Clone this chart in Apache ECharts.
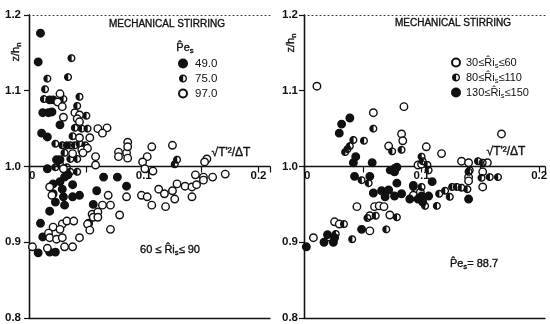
<!DOCTYPE html>
<html>
<head>
<meta charset="utf-8">
<script src="https://cdn.jsdelivr.net/npm/echarts@6/dist/echarts.min.js"></script>
<style>
html, body { margin: 0; padding: 0; background: #fff; }
#main { width: 550px; height: 324px; }
</style>
</head>
<body>
<div id="main"></div>
<script>
// tick values
var yTicks = [0.8, 0.9, 1.0, 1.1, 1.2];
var xTickLabels = ['0', '0.1', '0.2'];

// left panel: 60 <= Ri_s <= 90, three Pe_s values  [sqrt(T'^2)/dT, z/h_n]
var pe49 = [[0.010,1.176],[0.008,1.138],[0.018,1.088],[0.021,1.088],[0.012,1.071],[0.017,1.071],[0.020,1.072],
  [0.027,1.055],[0.011,1.044],[0.016,1.039],[0.024,1.009],[0.027,1.009],[0.016,0.997],[0.065,0.986],[0.077,0.986],
  [0.085,0.974],[0.021,0.977],[0.027,0.980],[0.031,0.986],[0.034,0.989],[0.038,0.976],[0.021,0.964],[0.029,0.970],
  [0.030,0.960],[0.038,0.960],[0.044,0.962],[0.059,0.968],[0.023,0.953],[0.031,0.949],[0.018,0.941],[0.056,0.950],
  [0.052,0.925],[0.010,0.925],[0.012,0.907],[0.008,0.886],[0.018,0.887],[0.023,0.887]];
var pe75 = [[0.037,1.143],[0.016,1.116],[0.034,1.118],[0.014,1.102],[0.013,1.089],[0.030,1.089],[0.044,1.092],
  [0.042,1.080],[0.050,1.067],[0.040,1.051],[0.046,1.050],[0.051,1.050],[0.038,1.040],[0.023,1.030],[0.029,1.028],
  [0.033,1.028],[0.036,1.028],[0.040,1.028],[0.044,1.030],[0.049,1.028],[0.031,1.018],[0.129,1.009],[0.036,1.010],
  [0.042,1.010],[0.023,0.999],[0.027,1.003],[0.033,0.999],[0.036,0.993],[0.042,0.993],[0.127,1.003]];
var pe97 = [[0.027,1.096],[0.025,1.085],[0.029,1.079],[0.030,1.065],[0.040,1.071],[0.044,1.068],[0.042,1.063],
  [0.044,1.059],[0.060,1.050],[0.068,1.051],[0.064,1.044],[0.044,1.038],[0.053,1.038],[0.046,1.022],[0.051,1.024],
  [0.078,1.019],[0.085,1.018],[0.086,1.032],[0.086,1.026],[0.107,1.026],[0.125,1.028],[0.038,1.017],[0.047,1.018],
  [0.058,1.013],[0.078,1.013],[0.086,1.011],[0.103,1.013],[0.099,1.006],[0.155,1.010],[0.030,0.997],[0.058,1.002],
  [0.101,0.997],[0.108,0.994],[0.153,1.006],[0.018,0.973],[0.069,0.962],[0.085,0.960],[0.098,0.962],[0.103,0.960],
  [0.107,0.949],[0.113,0.970],[0.118,0.964],[0.119,0.947],[0.125,0.968],[0.127,0.957],[0.129,0.977],[0.136,0.974],
  [0.142,0.973],[0.145,0.989],[0.146,0.976],[0.152,0.986],[0.152,0.982],[0.142,0.960],[0.160,0.986],[0.171,0.990],
  [0.020,0.962],[0.055,0.937],[0.060,0.940],[0.064,0.949],[0.071,0.949],[0.056,0.933],[0.060,0.933],[0.079,0.936],
  [0.051,0.924],[0.053,0.916],[0.071,0.917],[0.021,0.920],[0.029,0.924],[0.033,0.928],[0.039,0.928],[0.017,0.912],
  [0.027,0.917],[0.018,0.906],[0.024,0.904],[0.029,0.906],[0.044,0.906],[0.003,0.894],[0.016,0.892],[0.031,0.894],
  [0.038,0.894]];

// right panel: Pe_s = 88.7, three Ri_s ranges
var ri30 = [[0.011,1.106],[0.085,1.079],[0.059,1.071],[0.083,1.043],[0.084,1.034],[0.072,1.027],[0.104,1.026],
  [0.117,1.017],[0.168,1.043],[0.093,0.962],[0.099,0.966],[0.045,0.947],[0.060,0.947],[0.064,0.948],[0.068,0.947],
  [0.073,0.936],[0.056,0.935],[0.026,0.927],[0.030,0.924],[0.056,0.915],[0.021,0.907],[0.008,0.906],[0.134,1.007],
  [0.140,1.005],[0.156,1.005],[0.140,0.986],[0.140,0.981],[0.152,0.973],[0.152,0.993],[0.097,1.002],[0.100,1.003]];
var ri80 = [[0.059,1.050],[0.051,1.034],[0.042,1.035],[0.039,1.027],[0.037,1.023],[0.035,1.019],[0.075,1.020],
  [0.083,1.022],[0.100,1.013],[0.049,0.982],[0.055,0.978],[0.076,0.995],[0.077,0.998],[0.093,0.973],[0.100,0.973],
  [0.103,0.948],[0.113,0.948],[0.115,0.964],[0.120,0.968],[0.126,0.973],[0.130,0.973],[0.134,0.972],[0.139,0.970],
  [0.124,0.960],[0.148,1.007],[0.152,1.005],[0.101,1.007],[0.105,1.002],[0.106,0.995],[0.141,0.995],[0.140,0.993],
  [0.151,0.985],[0.158,0.986],[0.165,0.986],[0.079,0.933],[0.061,0.935],[0.054,0.932],[0.034,0.924],[0.070,0.917],
  [0.027,0.911],[0.041,0.904],[0.073,0.995]];
var ri130 = [[0.039,1.064],[0.032,1.056],[0.030,1.044],[0.044,1.013],[0.042,1.005],[0.058,1.005],[0.079,0.999],
  [0.077,0.993],[0.043,0.987],[0.056,0.987],[0.059,0.965],[0.079,0.978],[0.066,0.968],[0.072,0.969],[0.069,0.960],
  [0.077,0.961],[0.083,0.964],[0.090,0.957],[0.093,0.975],[0.109,0.980],[0.097,0.957],[0.101,0.953],[0.106,0.961],
  [0.140,0.957],[0.100,0.961],[0.049,0.917],[0.017,0.900],[0.025,0.900],[0.026,0.906],[0.002,0.894],[0.020,0.910]];

var ink = '#111';
var font = 'Liberation Sans';

// half filled circle as one polygon: outer ring, slit, right-half hole
function halfDotPath() {
  var p = [], i, t, n = 48, r = 6.6, x0 = 0.5;
  for (i = 0; i <= n; i++) {
    t = 2 * Math.PI * i / n;
    p.push((10 * Math.sin(t)).toFixed(2) + ',' + (-10 * Math.cos(t)).toFixed(2));
  }
  var d = Math.asin(x0 / r), yy = r * Math.cos(d);
  p.push(x0 + ',' + (-yy).toFixed(2));
  p.push(x0 + ',' + yy.toFixed(2));
  for (i = 1; i < n / 2; i++) {
    t = Math.PI - d - (Math.PI - 2 * d) * i / (n / 2);
    p.push((r * Math.sin(t)).toFixed(2) + ',' + (-r * Math.cos(t)).toFixed(2));
  }
  p.push(x0 + ',' + (-yy).toFixed(2));
  p.push('0,-10');
  return 'path://M' + p.join('L') + 'Z';
}
var halfDot = halfDotPath();

function dots(name, data, idx, kind) {
  var s = {
    name: name, type: 'scatter', data: data,
    xAxisIndex: idx * 3, yAxisIndex: idx * 2,
    symbol: 'circle', symbolSize: 7.5,
    itemStyle: { color: '#fff', borderColor: ink, borderWidth: 1.4, opacity: 1 },
    emphasis: { disabled: true }, silent: true
  };
  if (kind === 'full') s.itemStyle.color = ink;
  if (kind === 'half') {
    s.symbol = halfDot;
    s.symbolSize = 8;
    s.itemStyle = { color: ink, borderColor: ink, borderWidth: 0, opacity: 1 };
  }
  return s;
}

function xAxes(gi, max) {
  return [{
    gridIndex: gi, type: 'value', min: 0, max: max, interval: 0.05,
    position: 'bottom', offset: -151.5,
    axisLine: { lineStyle: { color: ink, width: 1.3 } },
    axisTick: { length: 6, lineStyle: { color: ink, width: 1.2 } },
    axisLabel: {
      margin: 3, color: ink, fontFamily: font, fontSize: 11.5, fontWeight: 'bold',
      formatter: function (v) {
        var k = Math.round(v * 100);
        if (k === 0) return '  ' + xTickLabels[0];
        if (k === 10) return xTickLabels[1];
        if (k === 20) return xTickLabels[2];
        return '';
      }
    },
    splitLine: { show: false }
  }, {
    gridIndex: gi, type: 'value', min: 0, max: max, position: 'bottom',
    axisLine: { lineStyle: { color: ink, width: 1.3 } },
    axisTick: { show: false }, axisLabel: { show: false }, splitLine: { show: false }
  }, {
    gridIndex: gi, type: 'value', min: 0, max: max, position: 'top',
    axisLine: { lineStyle: { color: '#333', width: 1, type: [1, 3] } },
    axisTick: { show: false }, axisLabel: { show: false }, splitLine: { show: false }
  }];
}

function yAxes(gi, margin) {
  return [{
    gridIndex: gi, type: 'value', min: yTicks[0], max: yTicks[yTicks.length - 1], interval: 0.1,
    position: 'left',
    axisLine: { lineStyle: { color: ink, width: 1.3 } },
    axisTick: { length: 5, lineStyle: { color: ink, width: 1.2 } },
    axisLabel: {
      margin: margin, color: ink, fontFamily: font, fontSize: 11.5, fontWeight: 'bold',
      formatter: function (v) { return v.toFixed(1); }
    },
    splitLine: { show: false }
  }, {
    gridIndex: gi, type: 'value', min: yTicks[0], max: yTicks[yTicks.length - 1], position: 'right',
    axisLine: { lineStyle: { color: ink, width: 1.3 } },
    axisTick: { show: false }, axisLabel: { show: false }, splitLine: { show: false }
  }];
}

function txt(x, y, text, size, extra) {
  var el = {
    type: 'text', x: x, y: y, silent: true,
    style: {
      text: text, fill: ink, stroke: ink, lineWidth: 0.35, fontFamily: font, fontSize: size,
      align: 'center', verticalAlign: 'middle',
      rich: {
        s: { fontSize: size * 0.7, fontFamily: font, fill: ink, padding: [size * 0.55, 0, 0, 0] }
      }
    }
  };
  if (extra) for (var k in extra) el[k] = extra[k];
  return el;
}

var riNames = { '30≤Ri≤60': '30≤R̂i{s|s}≤60', '80≤Ri≤110': '80≤R̂i{s|s}≤110', '130≤Ri≤150': '130≤R̂i{s|s}≤150' };

var myChart = echarts.init(document.getElementById('main'), null, { renderer: 'canvas' });
var option = {
  backgroundColor: '#fff',
  animation: false,
  grid: [
    { left: 29, top: 15, width: 241, height: 303, outerBoundsMode: 'none' },
    { left: 304, top: 15, width: 241, height: 303, outerBoundsMode: 'none' }
  ],
  xAxis: xAxes(0, 0.21).concat(xAxes(1, 0.205)),
  yAxis: yAxes(0, 8).concat(yAxes(1, 6)),
  legend: [{
    data: ['49.0', '75.0', '97.0'], orient: 'vertical', left: 178, top: 56, padding: 0,
    itemWidth: 8, itemHeight: 8, itemGap: 0, selectedMode: false,
    textStyle: { color: ink, fontFamily: font, fontSize: 11.5, lineHeight: 15, padding: [0, 0, 0, 3] }
  }, {
    data: ['30≤Ri≤60', '80≤Ri≤110', '130≤Ri≤150'], orient: 'vertical', left: 451, top: 55, padding: 0,
    itemWidth: 8, itemHeight: 8, itemGap: 0, selectedMode: false,
    formatter: function (n) { return riNames[n]; },
    textStyle: {
      color: ink, fontFamily: font, fontSize: 11, lineHeight: 15, padding: [0, 0, 0, 1],
      rich: { s: { fontSize: 7.5, fontFamily: font, color: ink, padding: [6, 0, 0, 0] } }
    }
  }],
  series: [
    dots('49.0', pe49, 0, 'full'),
    dots('75.0', pe75, 0, 'half'),
    dots('97.0', pe97, 0, 'open'),
    dots('30≤Ri≤60', ri30, 1, 'open'),
    dots('80≤Ri≤110', ri80, 1, 'half'),
    dots('130≤Ri≤150', ri130, 1, 'full')
  ],
  graphic: [
    txt(167, 24, 'MECHANICAL STIRRING', 10, null),
    txt(453, 23, 'MECHANICAL STIRRING', 10, null),
    txt(185, 48, 'P̂e{s|s}', 11, null),
    txt(16, 52, 'z/h{s|n}', 11, { rotation: Math.PI / 2 }),
    txt(291, 43, 'z/h{s|n}', 11, { rotation: Math.PI / 2 }),
    txt(231, 153, "√T'²/ΔT", 12, null),
    txt(506, 152, "√T'²/ΔT", 12, null),
    txt(170, 250, '60 ≤ R̂i{s|s}≤ 90', 11, null),
    txt(474, 264, 'P̂e{s|s}= 88.7', 11, null)
  ]
};
myChart.setOption(option);
</script>
</body>
</html>
